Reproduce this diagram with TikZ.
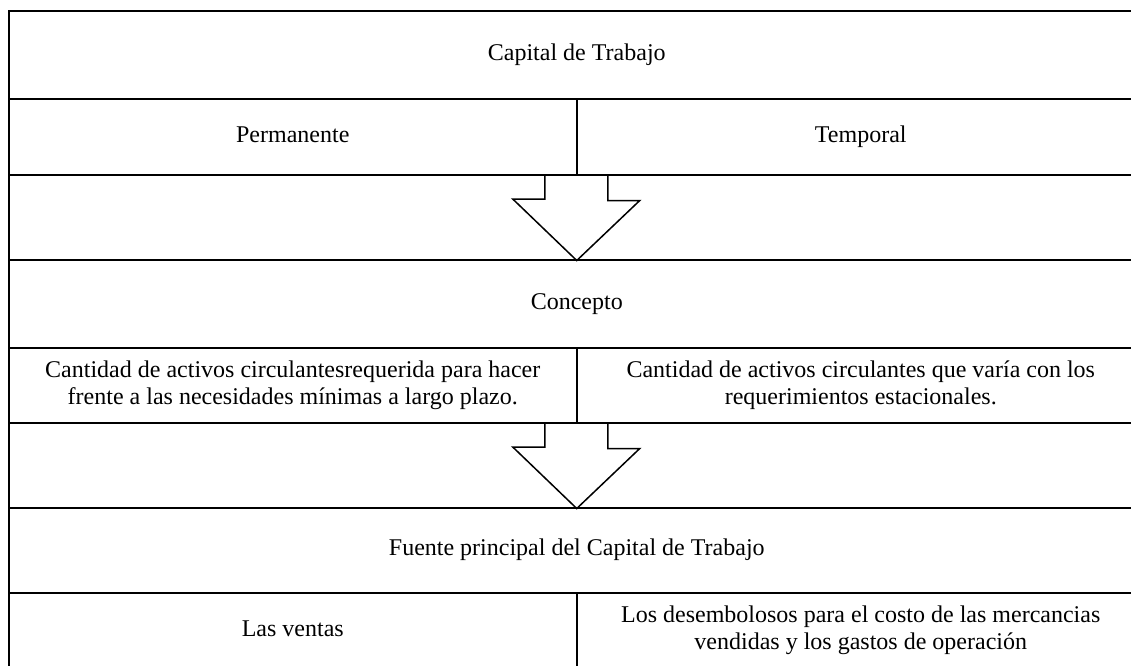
\documentclass[tikz,border=0pt]{standalone}
\usepackage{fontspec}
\setmainfont{Liberation Serif}
\begin{document}
\begin{tikzpicture}[x=1pt,y=-1pt,
  cell/.style={draw, line width=1.5pt, inner sep=0pt, anchor=north west, align=center,
    font=\fontsize{24}{27}\selectfont},
  full/.style={cell, minimum width=1136pt},
  half/.style={cell, minimum width=568pt},
  bigarrow/.style={draw, line width=1.5pt, line join=miter}]
\useasboundingbox (0,0) rectangle (1131,665);
\clip (0,0) rectangle (1131,665);
\node[full, minimum height=88pt] (title) at (8,10) {\strut Capital de Trabajo};
\node[half, minimum height=76pt] (perm) at (8,98) {\strut Permanente};
\node[half, minimum height=76pt] (temp) at (576,98) {\strut Temporal};
\node[full, minimum height=85pt] (gap1) at (8,174) {};
\node[full, minimum height=88pt] (concept) at (8,259) {\strut Concepto};
\node[half, minimum height=75pt] (defperm) at (8,347) {\strut Cantidad de activos circulantesrequerida para hacer\\frente a las necesidades mínimas a largo plazo.\strut};
\node[half, minimum height=75pt] (deftemp) at (576,347) {\strut Cantidad de activos circulantes que varía con los\\requerimientos estacionales.\strut};
\node[full, minimum height=85pt] (gap2) at (8,422) {};
\node[full, minimum height=85pt] (source) at (8,507) {\strut Fuente principal del Capital de Trabajo};
\node[half, minimum height=76pt] (sales) at (8,592) {\strut Las ventas};
\node[half, minimum height=76pt] (costs) at (576,592) {\strut Los desembolosos para el costo de las mercancias\\vendidas y los gastos de operación\strut};
% block arrows
\draw[bigarrow] (gap1.north) ++(-32,0) -- ++(0,25) -- ++(-32,0) -- (gap1.south) -- ++(63,-60) -- ++(-32,0) -- ++(0,-25);
\draw[bigarrow] (gap2.north) ++(-32,0) -- ++(0,25) -- ++(-32,0) -- (gap2.south) -- ++(63,-60) -- ++(-32,0) -- ++(0,-25);
\end{tikzpicture}
\end{document}
